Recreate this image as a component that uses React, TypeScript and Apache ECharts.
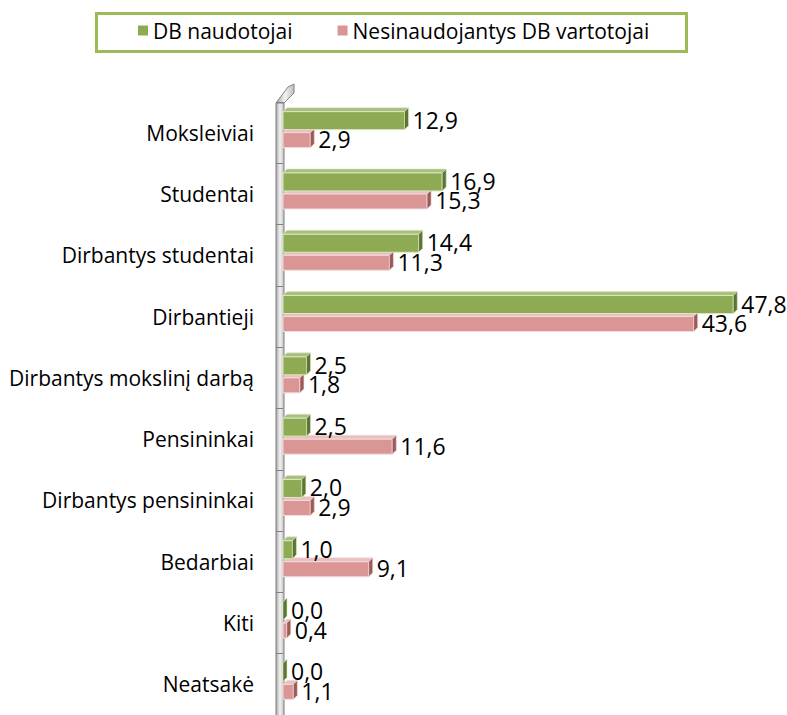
import React, { useEffect, useRef } from "react";
import * as echarts from "echarts";

const categories = [
  "Moksleiviai",
  "Studentai",
  "Dirbantys studentai",
  "Dirbantieji",
  "Dirbantys mokslinį darbą",
  "Pensininkai",
  "Dirbantys pensininkai",
  "Bedarbiai",
  "Kiti",
  "Neatsakė",
];
const dbUsers = [12.9, 16.9, 14.4, 47.8, 2.5, 2.5, 2.0, 1.0, 0.0, 0.0];
const nonUsers = [2.9, 15.3, 11.3, 43.6, 1.8, 11.6, 2.9, 9.1, 0.4, 1.1];
const seriesNames = ["DB naudotojai", "Nesinaudojantys DB vartotojai"];

const FONT = "'Open Sans', 'Noto Sans', sans-serif";

type Cfg = { top: number; bottom: number; front: string; topFace: string; side: string; edge: string };

const greenCfg: Cfg = { top: -21, bottom: -3, front: "#8EAA52", topFace: "#A9C07C", side: "#5C7530", edge: "#DDE7C8" };
const pinkCfg: Cfg = { top: 0, bottom: 15, front: "#D99694", topFace: "#E9C0BF", side: "#9C5B59", edge: "#F3DCDB" };

const DX = 4;
const DY = 4;

function makeRender(cfg: Cfg) {
  return (params: any, api: any) => {
    const v = api.value(0);
    const idx = api.value(1);
    const end = api.coord([v, idx]);
    const start = api.coord([0, idx]);
    const c = end[1];
    const x0 = start[0];
    const x1 = end[0];
    const top = c + cfg.top;
    const bot = c + cfg.bottom;
    return {
      type: "group",
      children: [
        {
          type: "polygon",
          shape: { points: [[x0, top], [x0 + DX, top - DY], [x1 + DX, top - DY], [x1, top]] },
          style: { fill: cfg.topFace, stroke: cfg.edge, lineWidth: 0.6 },
        },
        {
          type: "rect",
          shape: { x: x0, y: top, width: Math.max(x1 - x0, 0), height: bot - top },
          style: { fill: cfg.front, stroke: cfg.edge, lineWidth: 1 },
        },
        {
          type: "polygon",
          shape: { points: [[x1, top], [x1 + DX, top - DY], [x1 + DX, bot - DY], [x1, bot]] },
          style: { fill: cfg.side, stroke: cfg.edge, lineWidth: 0.6 },
        },
        {
          type: "text",
          style: {
            text: v.toFixed(1).replace(".", ","),
            x: x1 + DX + 4,
            y: (top + bot) / 2 - 1,
            verticalAlign: "middle",
            align: "left",
            fill: "#000",
            fontSize: 23,
            fontFamily: FONT,
          },
        },
      ],
    };
  };
}

export default function App() {
  const ref = useRef<HTMLDivElement>(null);
  useEffect(() => {
    if (!ref.current) return;
    const chart = echarts.init(ref.current, undefined, { renderer: "svg" });
    chart.setOption({
      animation: false,
      backgroundColor: "#ffffff",
      legend: {
        left: 138,
        top: 20,
        padding: 0,
        itemWidth: 10,
        itemHeight: 10,
        itemGap: 45,
        icon: "rect",
        data: seriesNames,
        textStyle: { fontSize: 21, fontFamily: FONT, color: "#000" },
      },
      graphic: [
        {
          type: "rect",
          z: -10,
          shape: { x: 96.5, y: 13.5, width: 590, height: 38 },
          style: { fill: "#fff", stroke: "#9BBB59", lineWidth: 3 },
        },
        {
          type: "polygon",
          z: -5,
          shape: { points: [[276, 103], [288, 87], [294, 84], [294, 93], [284, 103]] },
          style: {
            fill: new echarts.graphic.LinearGradient(0, 0, 1, 0, [
              { offset: 0, color: "#A6A6A6" },
              { offset: 0.5, color: "#F2F2F2" },
              { offset: 1, color: "#BFBFBF" },
            ]),
            stroke: "#808080",
            lineWidth: 1,
          },
        },
        {
          type: "rect",
          z: -5,
          shape: { x: 276, y: 103, width: 8, height: 620 },
          style: {
            fill: new echarts.graphic.LinearGradient(0, 0, 1, 0, [
              { offset: 0, color: "#A6A6A6" },
              { offset: 0.5, color: "#F2F2F2" },
              { offset: 1, color: "#BFBFBF" },
            ]),
            stroke: "#808080",
            lineWidth: 1,
          },
        },
      ],
      grid: { left: 283, right: 33, top: 102, bottom: -4, containLabel: false },
      xAxis: {
        type: "value",
        min: 0,
        max: 50,
        show: false,
      },
      yAxis: {
        type: "category",
        data: categories,
        inverse: true,
        offset: 7,
        axisLine: { show: false },
        axisTick: { show: true, length: 7, lineStyle: { color: "#808080", width: 1 } },
        axisLabel: { margin: 22, fontSize: 21, fontFamily: FONT, color: "#000" },
        splitLine: { show: false },
      },
      series: [
        {
          name: seriesNames[1],
          type: "custom",
          renderItem: makeRender(pinkCfg),
          itemStyle: { color: pinkCfg.front },
          encode: { x: 0, y: 1 },
          data: nonUsers.map((v, i) => [v, i]),
          z: 2,
        },
        {
          name: seriesNames[0],
          type: "custom",
          renderItem: makeRender(greenCfg),
          itemStyle: { color: greenCfg.front },
          encode: { x: 0, y: 1 },
          data: dbUsers.map((v, i) => [v, i]),
          z: 3,
        },
      ],
    });
    return () => chart.dispose();
  }, []);
  return (
    <div
      ref={ref}
      style={{ position: "fixed", left: 0, top: 0, width: 787, height: 715 }}
    />
  );
}
